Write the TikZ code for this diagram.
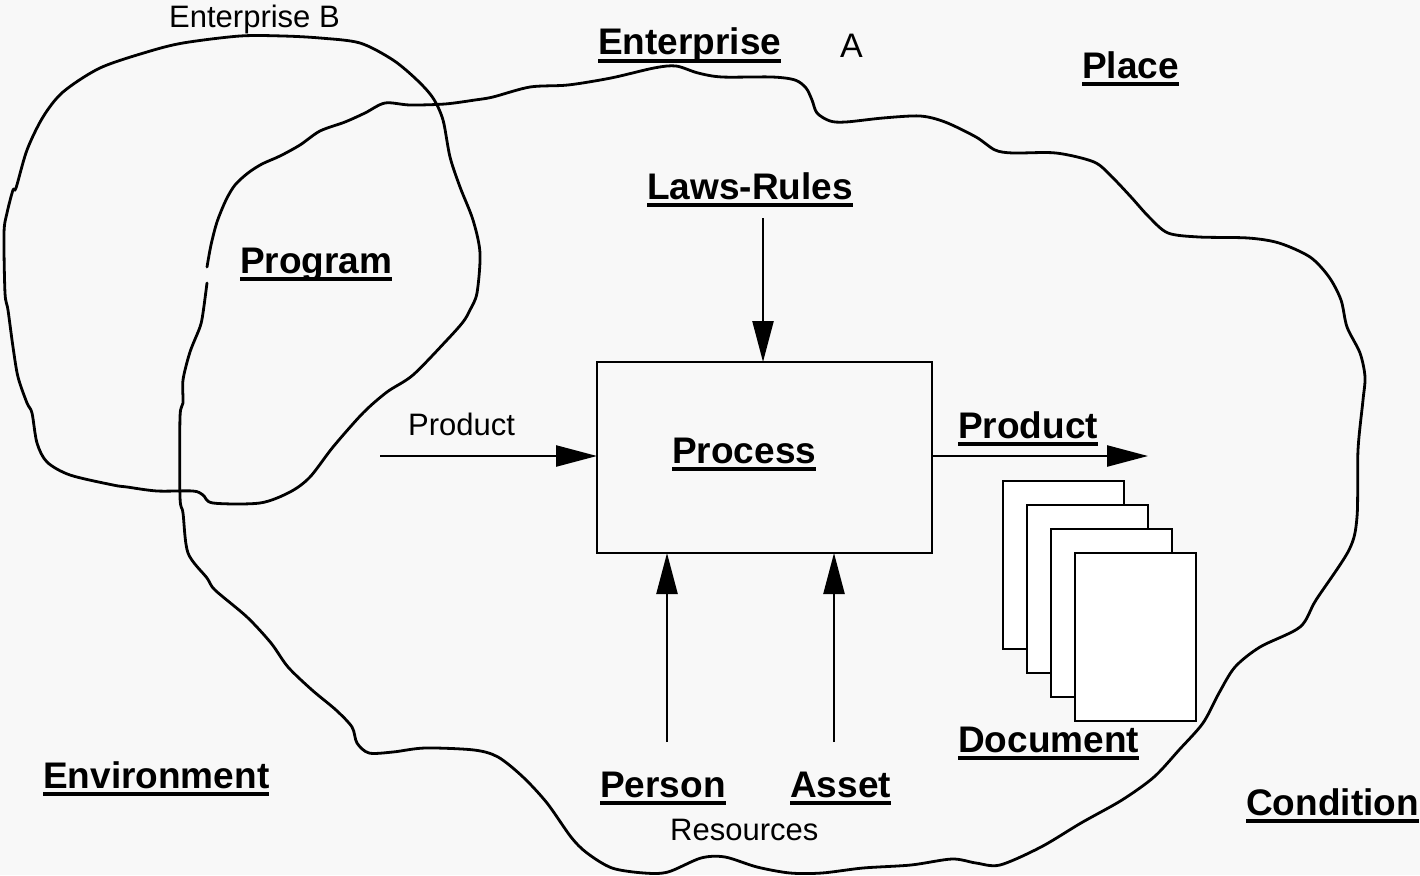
\documentclass[tikz,border=0pt]{standalone}
\usepackage{fontspec}
\setmainfont{Liberation Sans}
\usetikzlibrary{arrows.meta}
\definecolor{bgcol}{RGB}{248,248,248}
\newcommand\ulb[1]{\setbox0=\hbox{#1}\rlap{\rule[-7.5pt]{\wd0}{3.6pt}}\box0}
\begin{document}
\begin{tikzpicture}[x=1pt,y=-1pt,
  blob/.style={line width=2.8pt, line join=round, line cap=round},
  lbl/.style={inner sep=0pt, anchor=base west, font=\fontsize{37}{44}\selectfont\bfseries},
  sm/.style={inner sep=0pt, anchor=base west, font=\fontsize{31}{37}\selectfont},
  arr/.style={line width=2.4pt, -{Triangle[length=41pt,width=21pt]}},
  procbox/.style={draw, line width=2.8pt, minimum width=335pt, minimum height=191pt, inner sep=0pt, outer sep=0pt},
  docbox/.style={draw, fill=white, line width=2.8pt, minimum width=121pt, minimum height=168pt, inner sep=0pt, outer sep=0pt}]
\useasboundingbox (0,0) rectangle (1420,875);
\fill[bgcol] (0,0) rectangle (1420,875);

% Enterprise B outline
\draw[blob] plot[smooth cycle, tension=0.5] coordinates {
(16,188) (27,150) (43,117) (63,92) (100,68) (147,52) (183,43) (240,36) (283,36)
(320,38) (360,43) (393,60) (417,80) (433,98) (443,120) (450,157) (460,187) (473,220)
(480,253) (477,293) (470,310) (463,322) (447,340) (413,375) (387,392) (363,413)
(333,447) (310,477) (290,492) (260,503) (213,503) (203,495) (193,491) (157,491)
(127,487) (113,485) (70,475) (47,462) (37,443) (32,413) (27,403) (18,377) (13,347)
(8,310) (5,293) (4,233) (7,213) (13,190)};

% Enterprise A outline
\draw[blob] plot[smooth, tension=0.5] coordinates {
(207,267) (211,245) (217,222) (226,200) (235,185) (248,173) (262,164) (280,156)
(300,145) (320,131) (345,122) (365,113) (385,103) (410,105) (445,104) (475,100)
(493,97) (530,87) (568,85) (611,78) (654,68) (676,66) (698,73) (722,77) (772,77)
(795,80) (806,88) (812,100) (817,113) (830,121) (846,122) (883,118) (920,116)
(945,122) (976,137) (995,150) (1013,153) (1056,153) (1094,162) (1112,177)
(1131,197) (1149,217) (1168,233) (1199,237) (1248,238) (1279,243) (1310,257)
(1329,277) (1341,300) (1347,327) (1360,353) (1365,377) (1363,400) (1358,450)
(1357,517) (1349,550) (1316,600) (1300,627) (1260,647) (1235,667) (1219,693)
(1203,723) (1179,750) (1154,777) (1122,800) (1081,823) (1041,847) (1000,865)
(976,863) (952,859) (911,865) (863,868) (822,873) (790,873) (757,867) (725,857)
(701,858) (668,872) (644,873) (612,868) (587,853) (571,837) (547,803) (523,777)
(498,757) (474,750) (425,748) (393,752) (369,753) (357,743) (352,727) (336,710)
(312,690) (288,667) (271,643) (247,617) (215,590) (207,578) (188,553) (183,513)
(180,497) (180,417) (183,403) (183,380) (190,352) (200,327) (203,313) (207,283)};

% Process box
\node[procbox] (proc) at (764.5,457.5) {};
\node[lbl] (proclbl) at (672,463) {\ulb{Process}};

% Documents
\node[docbox] (doc1) at (1063.5,565) {};
\node[docbox] (doc2) at (1087.5,589) {};
\node[docbox] (doc3) at (1111.5,613) {};
\node[docbox] (doc4) at (1135.5,637) {};

% Labels
\node[sm] (entb) at (169,28) {Enterprise B};
\node[lbl] (enta) at (598,55) {\ulb{Enterprise}};
\node[sm, font=\fontsize{34}{40}\selectfont] (a) at (840,57) {A};
\node[lbl] (place) at (1082,78) {\ulb{Place}};
\node[lbl] (laws) at (647,199.5) {\ulb{Laws-Rules}};
\node[lbl] (prog) at (240,273) {\ulb{Program}};
\node[sm] (prodin) at (408,435) {Product};
\node[lbl] (prodout) at (958,438) {\ulb{Product}};
\node[lbl] (docl) at (958,752) {\ulb{Document}};
\node[lbl] (env) at (43,788) {\ulb{Environment}};
\node[lbl] (person) at (600,797) {\ulb{Person}};
\node[lbl] (asset) at (790,797) {\ulb{Asset}};
\node[sm] (res) at (670,840) {Resources};
\node[lbl] (cond) at (1246,815) {\ulb{Condition}};

% Connectors
\coordinate (lawsS) at (763,218);
\coordinate (pin) at (380,456);
\coordinate (pout) at (1148,456);
\coordinate (personN) at (667,742);
\coordinate (assetN) at (834,742);
\draw[arr] (lawsS) -- (lawsS |- proc.north);
\draw[arr] (pin) -- (pin -| proc.west);
\draw[arr] (proc.east |- pout) -- (pout);
\draw[arr] (personN) -- (personN |- proc.south);
\draw[arr] (assetN) -- (assetN |- proc.south);
\end{tikzpicture}
\end{document}
